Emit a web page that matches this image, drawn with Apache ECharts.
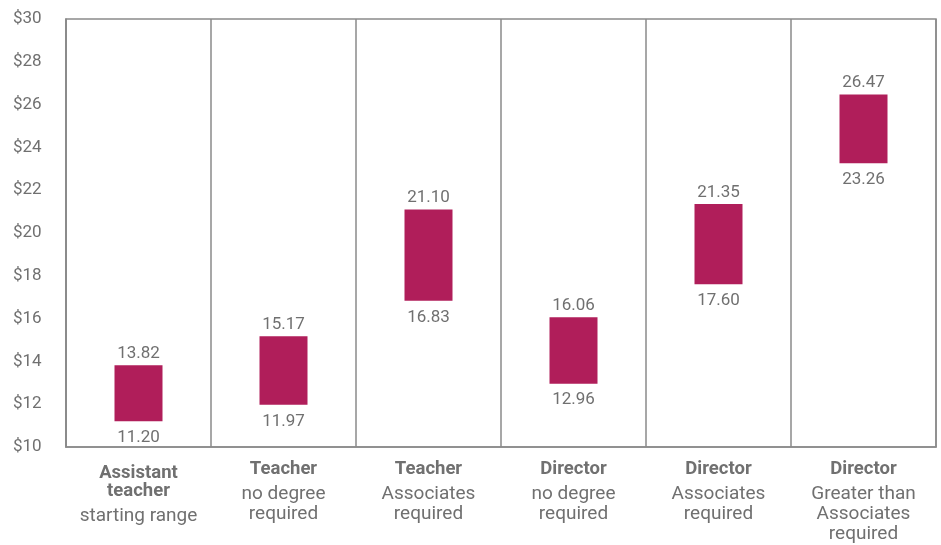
<!DOCTYPE html>
<html>
<head>
<meta charset="utf-8">
<script src="https://cdn.jsdelivr.net/npm/echarts@6/dist/echarts.min.js"></script>
<style>
  html, body { margin: 0; padding: 0; background: #fff; }
  #chart { width: 941px; height: 545px; }
</style>
</head>
<body>
<div id="chart"></div>
<script>
// Hourly wage ranges by role
const roleTitles = ['Assistant\nteacher', 'Teacher', 'Teacher', 'Director', 'Director', 'Director'];
const roleNotes = ['starting range', 'no degree\nrequired', 'Associates\nrequired', 'no degree\nrequired', 'Associates\nrequired', 'Greater than\nAssociates\nrequired'];
const lowWage = [11.20, 11.97, 16.83, 12.96, 17.60, 23.26];
const highWage = [13.82, 15.17, 21.10, 16.06, 21.35, 26.47];
const yTicks = { min: 10, max: 30, interval: 2 };

const categories = roleTitles.map((t, i) => i);
const spanValues = highWage.map((h, i) => +(h - lowWage[i]).toFixed(2));

const textColor = '#707070';
const lineColor = '#8a8a8a';
const fontFamily = 'Roboto, "Noto Sans", sans-serif';

// Bold title line(s), then the note lines; the last title line gets extra space below
function categoryLabel(i) {
  const titleLines = roleTitles[i].split('\n');
  const noteLines = roleNotes[i].split('\n');
  const parts = [];
  titleLines.forEach((l, k) => parts.push((k === titleLines.length - 1 ? '{bl|' : '{b|') + l + '}'));
  noteLines.forEach(l => parts.push('{n|' + l + '}'));
  return parts.join('\n');
}

const chart = echarts.init(document.getElementById('chart'));
chart.setOption({
  animation: false,
  textStyle: { fontFamily: fontFamily },
  grid: {
    left: 66, right: 5, top: 19, bottom: 98,
    show: true, borderColor: lineColor, borderWidth: 1.5
  },
  xAxis: {
    type: 'category',
    data: categories,
    axisLine: { show: true, lineStyle: { color: lineColor, width: 1.5 } },
    axisTick: { show: false },
    splitLine: { show: true, lineStyle: { color: lineColor, width: 1.5 } },
    axisLabel: {
      interval: 0,
      margin: 15,
      color: textColor,
      formatter: function (v) { return categoryLabel(+v); },
      rich: {
        b: { fontSize: 18.5, fontWeight: 'bold', lineHeight: 22, color: textColor, fontFamily: fontFamily },
        bl: { fontSize: 18.5, fontWeight: 'bold', lineHeight: 22, padding: [0, 0, 7, 0], color: textColor, fontFamily: fontFamily },
        n: { fontSize: 19, lineHeight: 20, color: textColor, fontFamily: fontFamily }
      }
    }
  },
  yAxis: {
    type: 'value',
    min: yTicks.min, max: yTicks.max, interval: yTicks.interval,
    axisLine: { show: true, lineStyle: { color: lineColor, width: 1.5 } },
    axisTick: { show: false },
    splitLine: { show: false },
    axisLabel: {
      align: 'left',
      margin: 53,
      color: textColor,
      fontSize: 17,
      formatter: v => '$' + v
    }
  },
  series: [
    {
      name: 'low',
      type: 'bar',
      stack: 'range',
      barWidth: 48,
      data: lowWage,
      itemStyle: { color: 'transparent' },
      label: {
        show: true,
        position: 'insideTop',
        distance: 8,
        color: textColor,
        fontSize: 17,
        formatter: p => lowWage[p.dataIndex].toFixed(2)
      }
    },
    {
      name: 'range',
      type: 'bar',
      stack: 'range',
      barWidth: 48,
      data: spanValues,
      itemStyle: { color: '#B01E5A' },
      label: {
        show: true,
        position: 'top',
        distance: 3,
        color: textColor,
        fontSize: 17,
        formatter: p => highWage[p.dataIndex].toFixed(2)
      }
    }
  ]
});
</script>
</body>
</html>
